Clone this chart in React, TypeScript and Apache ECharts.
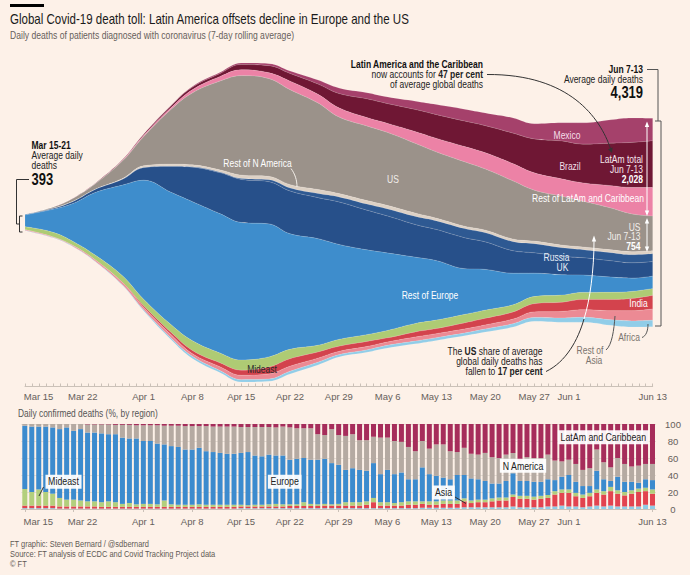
import React, { useEffect, useRef } from 'react';
import * as echarts from 'echarts';

const BG = '#fdf1e8';
const FONT = "'Liberation Sans', Arial, sans-serif";
const SX = 0.85; // the reference typeface is narrow

// ---------- Stream: daily deaths, 7-day rolling average ----------
const streamDates = [
  '2020-03-15', '2020-03-19', '2020-03-22', '2020-03-25', '2020-03-29', '2020-04-01', '2020-04-05',
  '2020-04-08', '2020-04-12', '2020-04-15', '2020-04-19', '2020-04-22', '2020-04-26', '2020-04-29',
  '2020-05-03', '2020-05-06', '2020-05-10', '2020-05-13', '2020-05-17', '2020-05-20', '2020-05-24',
  '2020-05-27', '2020-05-31', '2020-06-03', '2020-06-07', '2020-06-10', '2020-06-13',
];
const mexico = [0, 0, 0, 2, 4, 6, 10, 16, 24, 32, 42, 53, 84, 116, 126, 139, 174, 210, 246, 263, 315, 315, 378, 441, 483, 504, 462];
const brazil = [0, 0, 0, 4, 12, 24, 40, 51, 62, 109, 147, 158, 210, 294, 386, 407, 456, 489, 525, 559, 630, 699, 783, 798, 876, 930, 966];
const restLatAm = [0, 0, 2, 6, 14, 24, 36, 66, 95, 120, 120, 176, 179, 189, 174, 189, 244, 281, 315, 336, 357, 357, 357, 378, 462, 546, 588];
const us = [8, 25, 63, 105, 363, 599, 1137, 1484, 1835, 2052, 2016, 1959, 1785, 1579, 1539, 1504, 1436, 1365, 1329, 1260, 1197, 1050, 1008, 945, 861, 777, 714];
const restNAmerica = [0, 2, 4, 6, 14, 34, 40, 40, 46, 69, 69, 69, 84, 69, 71, 71, 69, 55, 48, 53, 53, 53, 53, 53, 59, 63, 63];
const russia = [0, 0, 0, 0, 2, 4, 6, 8, 12, 21, 42, 63, 84, 105, 126, 147, 168, 179, 189, 189, 189, 189, 179, 168, 168, 168, 162];
const uk = [6, 17, 42, 63, 121, 259, 539, 712, 847, 888, 869, 882, 846, 876, 819, 762, 672, 641, 638, 567, 462, 420, 378, 357, 336, 315, 300];
const restEurope = [242, 473, 798, 1281, 1875, 2454, 2733, 2868, 2873, 2835, 2742, 2381, 2199, 1959, 1749, 1596, 1365, 1226, 945, 840, 651, 483, 420, 357, 315, 273, 258];
const mideast = [63, 95, 84, 95, 135, 134, 160, 201, 202, 210, 210, 195, 139, 141, 141, 153, 174, 174, 174, 168, 147, 147, 147, 147, 147, 147, 141];
const india = [2, 2, 2, 4, 6, 30, 46, 66, 81, 105, 141, 153, 126, 105, 105, 84, 105, 105, 126, 137, 147, 168, 189, 210, 231, 252, 279];
const restAsia = [13, 13, 17, 25, 44, 56, 70, 54, 81, 90, 105, 105, 84, 69, 69, 71, 84, 84, 84, 84, 95, 116, 137, 158, 189, 210, 231];
const africa = [4, 4, 6, 8, 12, 20, 34, 46, 40, 48, 48, 57, 57, 48, 48, 55, 57, 57, 57, 63, 69, 78, 88, 99, 111, 126, 134];

// top of the stream first
const layers: { name: string; values: number[]; color: string }[] = [
  { name: 'Mexico', values: mexico, color: '#a5416b' },
  { name: 'Brazil', values: brazil, color: '#6f1734' },
  { name: 'Rest of LatAm and Caribbean', values: restLatAm, color: '#ec82a6' },
  { name: 'US', values: us, color: '#9b928a' },
  { name: 'Rest of N America', values: restNAmerica, color: '#ddd1c5' },
  { name: 'Russia', values: russia, color: '#2e5992' },
  { name: 'UK', values: uk, color: '#27508a' },
  { name: 'Rest of Europe', values: restEurope, color: '#3e8dcc' },
  { name: 'Mideast', values: mideast, color: '#aecb74' },
  { name: 'India', values: india, color: '#d3434d' },
  { name: 'Rest of Asia', values: restAsia, color: '#ec8a94' },
  { name: 'Africa', values: africa, color: '#91cde8' },
];

// ---------- Bars: daily confirmed deaths, % by region (Mar 15 - Jun 13) ----------
const africaShare = [1, 1, 1, 1, 1, .5, .5, .5, .5, .5, .5, .5, .5, .5, .5, .5, .5, .5, .5, .5, .5, .5, .5, .5, .5, .5, .5, .5, .5, .5, .5, 1, 1, 1, 1, 1, 1, 1, 1, 1, 1, 1, 1, 1, 1, 1,
  1, 1, 1, 1, 1, 1, 1, 1, 1, 1, 1, 1.5, 1.5, 1.5, 1.5, 1.5, 1.5, 2, 2, 2, 2, 2, 2, 2, 3, 2, 2, 2, 2, 3, 3, 4, 3, 3, 2, 3, 4, 3, 4, 3, 3, 3, 3, 5, 4];
const asiaShare = [3, 3, 3, 3, 3, 2.5, 2.5, 2.5, 2.5, 2.5, 2.5, 2, 2, 2, 2, 2, 2, 2, 2, 2, 2, 2, 2, 2, 2, 2, 2, 2, 2, 2, 2, 2, 2, 2, 2, 2, 2, 2, 2.5, 2.5, 2.5, 2.5, 2.5, 3, 3, 3,
  3, 3, 3, 4, 7, 3, 3, 3, 3, 4, 4, 4.5, 3.5, 3.5, 4.5, 4.5, 4.5, 7, 5, 6, 6, 7, 8, 8, 11, 10, 10, 9, 10, 10, 14, 15, 16, 12, 11, 12, 15, 14, 17, 15, 13, 15, 17, 16, 14];
const mideastShare = [19.5, 16, 19, 16, 14, 10, 8, 8, 7, 6, 6, 5.5, 6.5, 5.5, 3.5, 4.5, 3, 3.5, 3.5, 3, 7.5, 3, 2.5, 2.5, 2.5, 3, 2.5, 2.5, 2.5, 2.5, 2.5, 2, 1.5, 2, 2, 2.5, 3, 2.5, 2, 2, 4.5, 2.5, 2, 2, 1.5, 2,
  4, 4, 4, 4, 5, 4, 4, 3, 4, 4, 4, 3, 4, 4, 4, 4, 4, 3.5, 3, 3, 3, 3.5, 3.5, 3.5, 3, 3.5, 3.5, 3.5, 3.5, 3.5, 4, 4, 4, 4, 4, 4, 4, 4, 5, 4, 4, 4, 4, 4, 5];
const europeShare = [74.5, 77, 74, 77, 78, 81, 85, 81, 84, 81, 81, 81, 79, 80, 78, 76, 77.5, 74, 74, 71.5, 66, 68.5, 68, 65, 65, 66.5, 63, 62, 61, 60, 60, 61, 62.5, 58, 57, 58.5, 57, 57.5, 52.5, 53.5, 52, 52, 52.5, 53, 48.5, 46,
  38, 40, 38, 36, 41, 33, 38, 34, 35, 26, 26, 40, 32, 30, 27, 25, 30, 27.5, 26, 24, 22, 17.5, 16.5, 19.5, 25, 17.5, 17.5, 17.5, 16.5, 18.5, 13, 15, 17, 13, 10, 8, 22, 14, 7, 16, 12, 10, 7, 10, 11];
const nAmericaShare = [2, 3, 3, 3, 4, 6, 4, 8, 6, 9.5, 9.5, 10.5, 11.5, 11, 15, 16, 15.5, 18.5, 18.5, 21.5, 22, 24, 25, 27.5, 27.5, 25.5, 29.5, 30, 31, 32, 32, 30.5, 29.5, 33.5, 34.5, 32.5, 33, 34, 38, 36, 35, 37, 30, 28, 40, 35,
  40, 40, 35, 36, 31, 43, 38, 39, 36, 38, 33, 31, 30, 37, 39, 33, 27, 32, 29, 29, 33, 31, 30, 31, 24, 24, 28, 28, 28, 29, 23, 18, 18, 21, 19, 21, 25, 20, 16, 22, 21, 18, 20, 18, 19];
const latAmShare = [0, 0, 0, 0, 0, 0, 0, 0, 0, .5, .5, .5, .5, 1, 1, 1, 1.5, 1.5, 1.5, 1.5, 2, 2, 2, 2.5, 2.5, 2.5, 2.5, 3, 3, 3, 3, 3.5, 3.5, 3.5, 3.5, 3.5, 4, 3, 4, 5, 5, 5, 12, 13, 6, 13,
  14, 12, 19, 19, 15, 16, 16, 20, 21, 27, 32, 20, 29, 24, 24, 32, 33, 28, 35, 36, 34, 39, 40, 36, 34, 43, 39, 40, 40, 36, 43, 44, 42, 47, 54, 52, 30, 45, 51, 40, 47, 50, 49, 47, 47];

const barRegions = [
  { name: 'Africa', values: africaShare, color: '#8fcbe6' },
  { name: 'Asia', values: asiaShare, color: '#e2434f' },
  { name: 'Mideast', values: mideastShare, color: '#b3cf7c' },
  { name: 'Europe', values: europeShare, color: '#3c8bce' },
  { name: 'N America', values: nAmericaShare, color: '#b5aaa2' },
  { name: 'LatAm and Caribbean', values: latAmShare, color: '#a62d5b' },
];

const axisTickLabels = ['Mar 15', 'Mar 22', 'Apr 1', 'Apr 8', 'Apr 15', 'Apr 22', 'Apr 29', 'May 6', 'May 13', 'May 20', 'May 27', 'Jun 1', 'Jun 13'];

const MONTHS = ['Jan', 'Feb', 'Mar', 'Apr', 'May', 'Jun', 'Jul', 'Aug', 'Sep', 'Oct', 'Nov', 'Dec'];
const START = Date.UTC(2020, 2, 15);
const barDates: string[] = [];
for (let i = 0; i < 91; i++) {
  const d = new Date(START + i * 864e5);
  barDates.push(`${MONTHS[d.getUTCMonth()]} ${d.getUTCDate()}`);
}
const dayOf = (iso: string) => Math.round((Date.parse(iso) - START) / 864e5);
const labelDayMap: Record<number, string> = {};
axisTickLabels.forEach((l) => { labelDayMap[barDates.indexOf(l)] = l; });

const AX_COLOR = '#66605b';
const richFor = (l: string) => (l === 'Mar 15' ? `{a|${l}}` : l === 'Mar 22' ? `{b|${l}}` : `{n|${l}}`);
const axisRich = {
  a: { padding: [0, 0, 0, 27], fontSize: 9.5, color: AX_COLOR, fontFamily: FONT },
  b: { padding: [0, 0, 0, 18], fontSize: 9.5, color: AX_COLOR, fontFamily: FONT },
  n: { fontSize: 9.5, color: AX_COLOR, fontFamily: FONT },
};

// ---------- graphic helpers ----------
const T = (x: number, y: number, text: string, o: any = {}) => ({
  type: 'text', x, y, scaleX: o.sx ?? SX, silent: true, z: 100,
  style: {
    text, fill: o.fill || '#222', fontSize: o.size || 10, fontFamily: FONT,
    fontWeight: o.bold ? 'bold' : 'normal', align: o.align || 'left', verticalAlign: 'middle',
    rich: o.rich, backgroundColor: o.bg, padding: o.pad,
  },
});
const PL = (points: number[][], stroke = '#333') => ({
  type: 'polyline', silent: true, z: 100, shape: { points }, style: { stroke, lineWidth: 1, fill: 'none' },
});
const BZ = (x1: number, y1: number, cpx1: number, cpy1: number, cpx2: number, cpy2: number, x2: number, y2: number, stroke = '#333') => ({
  type: 'bezierCurve', silent: true, z: 100, shape: { x1, y1, cpx1, cpy1, cpx2, cpy2, x2, y2 }, style: { stroke, lineWidth: 1, fill: 'none' },
});
const PG = (points: number[][], fill: string) => ({
  type: 'polygon', silent: true, z: 100, shape: { points }, style: { fill },
});
const annRich = (fill: string) => ({
  b: { fontWeight: 'bold', fontSize: 10, fontFamily: FONT, fill },
  r: { fontSize: 10, fontFamily: FONT, fill },
});
const BOX = { align: 'center', bg: 'rgba(255,255,255,0.93)', pad: [2, 3, 2, 3], fill: '#222', sx: 0.88 };

const graphics: any[] = [
  { type: 'rect', silent: true, shape: { x: 10, y: 4, width: 34, height: 3 }, style: { fill: '#000' } },
  T(10, 19, 'Global Covid-19 death toll: Latin America offsets decline in Europe and the US', { size: 14, fill: '#1a1a1a', sx: 0.824 }),
  T(10, 36, 'Daily deaths of patients diagnosed with coronavirus (7-day rolling average)', { size: 10, fill: '#66605b', sx: 0.86 }),

  // left annotation
  T(31.5, 146, 'Mar 15-21', { bold: true, fill: '#111' }),
  T(31.5, 156, 'Average daily', { fill: '#222' }),
  T(31.5, 165.5, 'deaths', { fill: '#222' }),
  T(31.5, 179.5, '393', { bold: true, size: 16, fill: '#111', sx: 0.81 }),
  PL([[29, 179.5], [16.5, 179.5], [16.5, 224], [19.5, 224]]),
  PL([[22.5, 216], [19.5, 216], [19.5, 232], [22.5, 232]]),

  // right annotation
  T(643, 69.5, 'Jun 7-13', { bold: true, align: 'right', fill: '#111' }),
  T(643, 80, 'Average daily deaths', { align: 'right', fill: '#222' }),
  T(643, 93, '4,319', { bold: true, size: 16, align: 'right', fill: '#111', sx: 0.81 }),
  PL([[647, 69.5], [658, 69.5], [658, 121]], '#555'),
  PL([[655, 121], [661, 121], [661, 326], [655, 326]], '#555'),

  // white arrows at the right edge
  PL([[647, 124], [647, 213]], '#ffffff'),
  PG([[647, 121.5], [644.8, 127], [649.2, 127]], '#ffffff'),
  PG([[647, 216], [644.8, 210.5], [649.2, 210.5]], '#ffffff'),
  PL([[647, 221], [647, 249]], '#ffffff'),
  PG([[647, 218], [644.8, 223.5], [649.2, 223.5]], '#ffffff'),
  PG([[647, 252], [644.8, 246.5], [649.2, 246.5]], '#ffffff'),

  T(643, 160, 'LatAm total', { align: 'right', fill: '#f6e6ec' }),
  T(643, 169.5, 'Jun 7-13', { align: 'right', fill: '#f6e6ec' }),
  T(643, 179.5, '2,028', { bold: true, align: 'right', fill: '#ffffff' }),
  T(640.5, 227.5, 'US', { align: 'right', fill: '#f2eeea' }),
  T(640.5, 237, 'Jun 7-13', { align: 'right', fill: '#f2eeea' }),
  T(640.5, 247, '754', { bold: true, align: 'right', fill: '#ffffff' }),

  // layer labels
  T(567, 136, 'Mexico', { align: 'center', fill: '#f5dfe8' }),
  T(570, 166.5, 'Brazil', { align: 'center', fill: '#f2dfe6' }),
  T(393, 180, 'US', { align: 'center', fill: '#f2eeea' }),
  T(588, 198.5, 'Rest of LatAm and Caribbean', { align: 'center', fill: '#ffffff' }),
  T(257.5, 164, 'Rest of N America', { align: 'center', fill: '#ffffff' }),
  BZ(291, 168.5, 295, 174, 297, 180, 297, 187, '#f4efe9'),
  T(556.5, 257.5, 'Russia', { align: 'center', fill: '#e6edf7' }),
  T(562.5, 268, 'UK', { align: 'center', fill: '#e6edf7' }),
  T(430, 295.5, 'Rest of Europe', { align: 'center', fill: '#ffffff' }),
  T(638.5, 303.5, 'India', { align: 'center', fill: '#ffffff' }),
  T(262, 370, 'Mideast', { align: 'center', fill: '#2a2a2a' }),
  T(590, 351, 'Rest of', { align: 'center', fill: '#7b746e' }),
  T(594, 361, 'Asia', { align: 'center', fill: '#7b746e' }),
  BZ(606, 350, 612, 345, 614, 330, 615, 316, '#555'),
  T(629, 337.5, 'Africa', { align: 'center', fill: '#7b746e' }),
  BZ(642, 337.5, 646, 336, 648, 331, 648, 324, '#555'),

  // LatAm 47% annotation
  T(483, 65, '{b|Latin America and the Caribbean}', { align: 'right', rich: annRich('#111') }),
  T(483, 75, '{r|now accounts for }{b|47 per cent}', { align: 'right', rich: annRich('#222') }),
  T(483, 84.5, 'of average global deaths', { align: 'right', fill: '#222' }),
  BZ(487, 74.5, 570, 74, 600, 118, 610.5, 148.5, '#333'),
  PG([[612, 153], [612.6, 147.4], [608, 149.2]], '#333'),

  // US 17% annotation
  T(542.5, 352, '{r|The }{b|US}{r| share of average}', { align: 'right', rich: annRich('#222') }),
  T(542.5, 362, 'global daily deaths has', { align: 'right', fill: '#222' }),
  T(542.5, 372, '{r|fallen to }{b|17 per cent}', { align: 'right', rich: annRich('#222') }),
  BZ(546, 371.5, 566, 362, 578, 340, 584, 319, '#333'),
  BZ(584, 319, 590, 300, 594, 270, 594, 241, '#ffffff'),
  PG([[594, 235.5], [591.8, 241.5], [596.2, 241.5]], '#ffffff'),

  // bar chart
  T(18, 414, 'Daily confirmed deaths (%, by region)', { fill: '#555', size: 10, sx: 0.84 }),
  T(63.5, 481.7, 'Mideast', BOX),
  PL([[43.5, 487], [39, 496]], '#333'),
  T(284.7, 481.7, 'Europe', BOX),
  T(443.5, 492.5, 'Asia', BOX),
  PL([[455, 497], [466, 503.5]], '#333'),
  T(523, 465.8, 'N America', BOX),
  T(603.3, 437.2, 'LatAm and Caribbean', BOX),

  // footer
  T(10, 544.5, 'FT graphic: Steven Bernard / @sdbernard', { size: 9, fill: '#5f5a55', sx: 0.83 }),
  T(10, 554.5, 'Source: FT analysis of ECDC and Covid Tracking Project data', { size: 9, fill: '#5f5a55', sx: 0.83 }),
  T(10, 564.5, '© FT', { size: 9, fill: '#5f5a55', sx: 0.83 }),
];

export default function App() {
  const ref = useRef<HTMLDivElement>(null);
  useEffect(() => {
    if (!ref.current) return;
    const chart = echarts.init(ref.current, undefined, { renderer: 'svg' });
    const riverData: any[] = [];
    layers.forEach((layer) => {
      layer.values.forEach((v, i) => riverData.push([dayOf(streamDates[i]), v, layer.name]));
    });
    const labelInterval = (index: number) => labelDayMap[index] !== undefined;
    const option: any = {
      animation: false,
      backgroundColor: BG,
      color: layers.map((l) => l.color),
      textStyle: { fontFamily: FONT },
      tooltip: { show: false },
      singleAxis: {
        type: 'value', min: 0, max: 90, interval: 1,
        left: 25, right: 37.3, top: 63, height: 323.5,
        axisLine: { lineStyle: { color: '#cbc1b8', width: 1 } },
        axisTick: { show: true, inside: true, length: 3, lineStyle: { color: '#cbc1b8' } },
        axisLabel: {
          margin: 5, fontSize: 9.5, color: AX_COLOR, fontFamily: FONT,
          formatter: (v: number) => (labelDayMap[v] ? richFor(labelDayMap[v]) : ''),
          rich: axisRich,
        },
        splitLine: { show: false },
        axisPointer: { show: false },
      },
      grid: [{ left: 21.3, right: 34, top: 424, height: 85 }],
      xAxis: [{
        type: 'category', gridIndex: 0, data: barDates,
        axisLine: { show: true, lineStyle: { color: '#cbc1b8' } },
        axisTick: { show: true, interval: labelInterval, alignWithLabel: true, length: 3, lineStyle: { color: '#cbc1b8' } },
        axisLabel: {
          interval: labelInterval, margin: 7, fontSize: 9.5, color: AX_COLOR, fontFamily: FONT,
          formatter: (v: string) => richFor(v), rich: axisRich,
        },
      }],
      yAxis: [{
        type: 'value', gridIndex: 0, position: 'right', min: 0, max: 100, interval: 20,
        axisLine: { show: false }, axisTick: { show: false },
        splitLine: { lineStyle: { color: '#e6dcd2' } },
        axisLabel: { align: 'center', margin: 17, fontSize: 9.5, color: AX_COLOR, fontFamily: FONT },
      }],
      series: [
        {
          type: 'themeRiver', singleAxisIndex: 0, data: riverData,
          color: layers.map((l) => l.color),
          boundaryGap: [0, 4.5],
          label: { show: false },
          emphasis: { disabled: true },
          itemStyle: { borderWidth: 0.5, borderColor: 'rgba(255,255,255,0.22)' },
          silent: true,
        },
        ...barRegions.map((r) => ({
          type: 'bar', name: r.name, stack: 'share', xAxisIndex: 0, yAxisIndex: 0,
          barWidth: 5, data: r.values, itemStyle: { color: r.color }, silent: true,
        })),
      ],
      graphic: graphics,
    };
    chart.setOption(option);
    return () => chart.dispose();
  }, []);
  return (
    <div style={{ position: 'absolute', left: 0, top: 0, width: 690, height: 575, background: BG }}>
      <div ref={ref} style={{ width: 690, height: 575 }} />
    </div>
  );
}
